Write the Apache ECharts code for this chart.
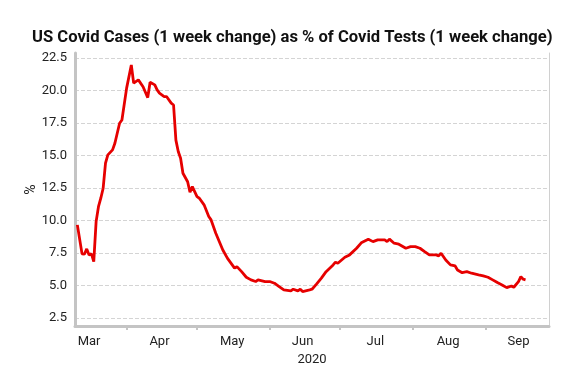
<!DOCTYPE html>
<html>
<head>
<meta charset="utf-8">
<script src="https://cdn.jsdelivr.net/npm/echarts@6/dist/echarts.min.js"></script>
<style>html,body{margin:0;padding:0;background:#fff}#c{width:566px;height:391px}</style>
</head>
<body>
<div id="c"></div>
<script>
var titleText = 'US Covid Cases (1 week change) as % of Covid Tests (1 week change)';
var dates = ['2020-03-11','2020-03-13','2020-03-14','2020-03-15','2020-03-16','2020-03-17','2020-03-18','2020-03-19','2020-03-20','2020-03-21','2020-03-22','2020-03-23','2020-03-24','2020-03-26','2020-03-27','2020-03-29','2020-03-30',
'2020-04-01','2020-04-03','2020-04-04','2020-04-06','2020-04-08','2020-04-10','2020-04-11','2020-04-13','2020-04-14','2020-04-15','2020-04-17','2020-04-18','2020-04-20','2020-04-21','2020-04-22','2020-04-23','2020-04-24','2020-04-25','2020-04-27','2020-04-28','2020-04-29',
'2020-05-01','2020-05-02','2020-05-04','2020-05-06','2020-05-07','2020-05-09','2020-05-12','2020-05-14','2020-05-16','2020-05-17','2020-05-18','2020-05-20','2020-05-22','2020-05-24','2020-05-26','2020-05-27','2020-05-30',
'2020-06-01','2020-06-03','2020-06-05','2020-06-07','2020-06-10','2020-06-11','2020-06-13','2020-06-14','2020-06-15','2020-06-18','2020-06-19','2020-06-21','2020-06-23','2020-06-25','2020-06-28','2020-06-29','2020-06-30',
'2020-07-03','2020-07-05','2020-07-08','2020-07-10','2020-07-13','2020-07-15','2020-07-17','2020-07-20','2020-07-21','2020-07-22','2020-07-24','2020-07-26','2020-07-29','2020-07-31',
'2020-08-02','2020-08-04','2020-08-06','2020-08-08','2020-08-11','2020-08-12','2020-08-13','2020-08-15','2020-08-17','2020-08-19','2020-08-20','2020-08-22','2020-08-24','2020-08-26','2020-08-29','2020-08-31',
'2020-09-02','2020-09-04','2020-09-06','2020-09-08','2020-09-10','2020-09-12','2020-09-13','2020-09-15','2020-09-16','2020-09-17','2020-09-18'];
var pct = [9.68,7.45,7.42,7.83,7.37,7.45,6.85,9.93,11.08,11.73,12.5,14.42,15.06,15.45,15.96,17.5,17.75,
20.2,21.98,20.58,20.83,20.3,19.47,20.65,20.45,20.06,19.81,19.55,19.55,19.04,18.9,16.2,15.32,14.8,13.65,13.0,12.19,12.62,
11.85,11.73,11.22,10.32,10.06,9.04,7.75,7.1,6.6,6.35,6.47,6.08,5.65,5.45,5.32,5.45,5.32,
5.32,5.19,4.93,4.68,4.6,4.73,4.6,4.73,4.55,4.68,4.73,5.14,5.58,6.08,6.6,6.81,6.73,
7.19,7.37,7.88,8.3,8.58,8.39,8.52,8.52,8.39,8.58,8.27,8.19,7.88,8.0,
8.0,7.88,7.62,7.37,7.37,7.29,7.5,6.98,6.6,6.52,6.21,6.0,6.08,5.96,5.83,5.75,
5.65,5.45,5.24,5.06,4.85,4.98,4.88,5.32,5.70,5.5,5.45];
var monthStarts = ['2020-04-01','2020-05-01','2020-06-01','2020-07-01','2020-08-01','2020-09-01'];
var monthMids = ['2020-03-16','2020-04-15','2020-05-16','2020-06-15','2020-07-16','2020-08-16','2020-09-15'];
var monthNames = ['Mar','Apr','May','Jun','Jul','Aug','Sep'];
var yTicks = [2.5,5,7.5,10,12.5,15,17.5,20,22.5];
var xName = '2020';
var yName = '%';

function ts(s){var p=s.split('-');return Date.UTC(+p[0],+p[1]-1,+p[2]);}
var data = dates.map(function(d,i){return [ts(d),pct[i]];});
var midTs = monthMids.map(ts);

var chart = echarts.init(document.getElementById('c'), null, {renderer:'canvas'});
chart.setOption({
  animation:false,
  textStyle:{fontFamily:'Roboto'},
  title:{text:titleText,left:27,top:24,textStyle:{fontFamily:'Roboto',fontWeight:'bold',fontSize:16.6,color:'#111'}},
  grid:{left:75,right:17,top:53,bottom:65},
  xAxis:{type:'value',min:ts('2020-03-10'),max:ts('2020-09-28'),
    name:xName,nameLocation:'middle',nameGap:27,nameMoveOverlap:false,nameTextStyle:{fontSize:13,color:'#222'},
    axisLine:{show:true,lineStyle:{color:'#c4c4c4',width:3}},
    axisTick:{show:true,customValues:monthStarts.map(ts),length:4,lineStyle:{color:'#c4c4c4',width:2}},
    axisLabel:{customValues:midTs,fontSize:13,color:'#222',margin:9,
      formatter:function(v){var i=midTs.indexOf(v);return i>=0?monthNames[i]:'';}},
    splitLine:{show:false}},
  yAxis:[{type:'value',min:1.9,max:22.9,position:'left',
    name:yName,nameLocation:'middle',nameGap:37,nameMoveOverlap:false,nameRotate:90,nameTextStyle:{fontSize:14,color:'#222'},
    axisLine:{show:true,lineStyle:{color:'#c4c4c4',width:3}},
    axisTick:{show:false,customValues:yTicks},
    axisLabel:{customValues:yTicks,fontSize:13,color:'#222',margin:8,formatter:function(v){return v.toFixed(1);}},
    splitLine:{show:true,lineStyle:{color:'#d4d4d4',type:'dashed',width:1}}},
   {type:'value',min:1.9,max:22.9,position:'right',
    axisLine:{show:true,lineStyle:{color:'#d0d0d0',width:1}},axisTick:{show:false},axisLabel:{show:false},splitLine:{show:false}}],
  series:[{type:'line',data:data,showSymbol:false,symbol:'none',lineStyle:{color:'#e60000',width:2.8},itemStyle:{color:'#e60000'}}]
});
</script>
</body>
</html>
